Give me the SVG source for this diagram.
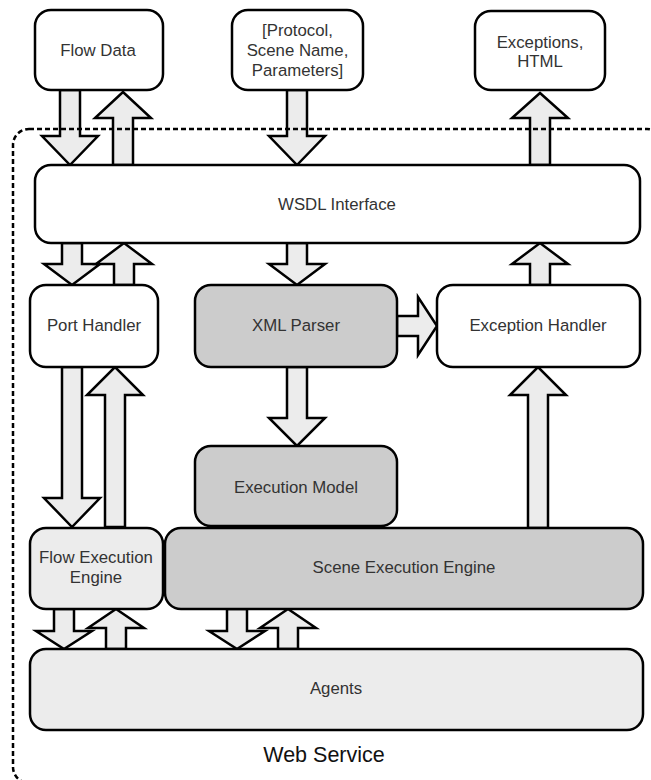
<svg xmlns="http://www.w3.org/2000/svg" width="651" height="780" viewBox="0 0 651 780">
<style>
.box{stroke:#000;stroke-width:2.5;}
.w{fill:#fff;}
.g{fill:#cccccc;}
.l{fill:#ececec;}
.arr{fill:#ececec;stroke:#000;stroke-width:2.5;stroke-linejoin:miter;}
text{font-family:"Liberation Sans",Arial,sans-serif;font-size:16.8px;fill:#333;text-anchor:middle;}
.big{font-size:21.5px;fill:#111;}
.bound{fill:none;stroke:#000;stroke-width:2.5;stroke-dasharray:5,3;}
</style>
<rect width="651" height="780" fill="#fff"/>
<g id="connectors">
<polygon class="arr" points="60,90 80,90 80,136 98,136 70,165 42,136 60,136"/>
<polygon class="arr" points="113,165 133,165 133,118 151,118 123,92 95,118 113,118"/>
<polygon class="arr" points="287,90 307,90 307,136 325,136 297,165 269,136 287,136"/>
<polygon class="arr" points="530,165 550,165 550,118 568,118 540,93 512,118 530,118"/>
<polygon class="arr" points="62,243 82,243 82,264 100,264 72,285 44,264 62,264"/>
<polygon class="arr" points="114,285 134,285 134,264 152,264 124,243 96,264 114,264"/>
<polygon class="arr" points="287,243 307,243 307,264 325,264 297,285 269,264 287,264"/>
<polygon class="arr" points="530,285 550,285 550,264 568,264 540,243 512,264 530,264"/>
<polygon class="arr" points="62,367 82,367 82,498 100,498 72,527 44,498 62,498"/>
<polygon class="arr" points="105,527 125,527 125,395 143,395 115,367 87,395 105,395"/>
<polygon class="arr" points="287,367 307,367 307,418 325,418 297,446 269,418 287,418"/>
<polygon class="arr" points="397,316 418,316 418,297 437,326 418,355 418,336 397,336"/>
<polygon class="arr" points="528,528 548,528 548,395 566,395 538,367 510,395 528,395"/>
<polygon class="arr" points="54,609 74,609 74,631 92,631 64,649 36,631 54,631"/>
<polygon class="arr" points="106,649 126,649 126,628 144,628 116,609 88,628 106,628"/>
<polygon class="arr" points="227,609 247,609 247,631 265,631 237,649 209,631 227,631"/>
<polygon class="arr" points="278,649 298,649 298,628 316,628 288,609 260,628 278,628"/>
</g>
<g id="flow-data"><rect class="box w" x="35" y="10" width="128" height="80" rx="16"/><text x="98" y="56">Flow Data</text></g>
<g id="protocol"><rect class="box w" x="232" y="10" width="131" height="80" rx="16"/><text x="297.5" y="36">[Protocol,</text><text x="297.5" y="56">Scene Name,</text><text x="297.5" y="76">Parameters]</text></g>
<g id="exceptions-html"><rect class="box w" x="475" y="11" width="130" height="79" rx="16"/><text x="540" y="48">Exceptions,</text><text x="540" y="67">HTML</text></g>
<g id="wsdl"><rect class="box w" x="35" y="165" width="605" height="78" rx="16"/><text x="337" y="210">WSDL Interface</text></g>
<g id="port-handler"><rect class="box w" x="30" y="285" width="128" height="82" rx="16"/><text x="94" y="331">Port Handler</text></g>
<g id="xml-parser"><rect class="box g" x="195" y="285" width="202" height="82" rx="16"/><text x="296" y="331">XML Parser</text></g>
<g id="exception-handler"><rect class="box w" x="437" y="285" width="203" height="82" rx="16"/><text x="538" y="331">Exception Handler</text></g>
<g id="execution-model"><rect class="box g" x="195" y="446" width="202" height="80" rx="16"/><text x="296" y="493">Execution Model</text></g>
<g id="flow-execution-engine"><rect class="box l" x="30" y="528" width="133" height="81" rx="16"/><text x="96" y="563">Flow Execution</text><text x="96" y="583">Engine</text></g>
<g id="scene-execution-engine"><rect class="box g" x="165" y="528" width="478" height="81" rx="16"/><text x="404" y="573">Scene Execution Engine</text></g>
<g id="agents"><rect class="box l" x="30" y="649" width="613" height="81" rx="16"/><text x="336" y="694">Agents</text></g>
<g id="web-service"><rect class="bound" x="13" y="129" width="650" height="654" rx="16"/><text class="big" x="324" y="762">Web Service</text></g>
</svg>
